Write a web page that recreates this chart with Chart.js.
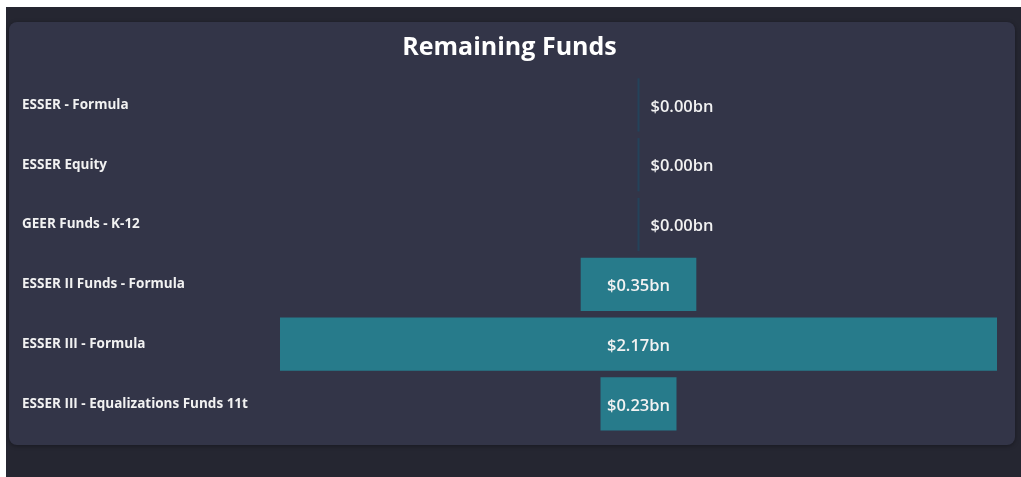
<!DOCTYPE html>
<html>
<head>
<meta charset="utf-8">
<script src="https://cdn.jsdelivr.net/npm/chart.js@4/dist/chart.umd.min.js"></script>
<style>
    html, body { margin: 0; padding: 0; background: #ffffff; }
    .page {
        position: absolute; left: 6px; top: 7px; width: 1015px; height: 470px;
        background: #252631;
    }
    .card {
        position: absolute; left: 3px; top: 15px; width: 1006px; height: 423px;
        background: #333548; border-radius: 8px;
        box-shadow: 0 1px 4px rgba(0, 0, 0, 0.35);
    }
    .card canvas { display: block; }
</style>
</head>
<body>
<div class="page">
    <div class="card">
        <canvas id="chart-area" width="1006" height="423"></canvas>
    </div>
</div>
<script>
    var categories = [
        'ESSER - Formula',
        'ESSER Equity',
        'GEER Funds - K-12',
        'ESSER II Funds - Formula',
        'ESSER III - Formula',
        'ESSER III - Equalizations Funds 11t'
    ];
    var remaining = [0.00, 0.00, 0.00, 0.35, 2.17, 0.23];

    var maxValue = Math.max.apply(null, remaining);
    var floating = remaining.map(function (v) { return [-v / 2, v / 2]; });

    var valueLabels = {
        id: 'valueLabels',
        afterDatasetsDraw: function (chart) {
            var ctx = chart.ctx;
            var meta = chart.getDatasetMeta(0);
            ctx.save();
            ctx.font = '600 16.5px "Open Sans", sans-serif';
            ctx.fillStyle = '#f2f2f2';
            ctx.textBaseline = 'middle';
            meta.data.forEach(function (bar, i) {
                var text = '$' + remaining[i].toFixed(2) + 'bn';
                // zero rows: label sits to the right of the centre line
                if (remaining[i] === 0) {
                    ctx.textAlign = 'left';
                    ctx.fillText(text, bar.x + 13, bar.y + 2);
                } else {
                    ctx.textAlign = 'center';
                    ctx.fillText(text, (bar.x + bar.base) / 2, bar.y + 2);
                }
            });
            ctx.restore();
        }
    };

    var config = {
        type: 'bar',
        data: {
            labels: categories,
            datasets: [{
                data: floating,
                backgroundColor: function (c) {
                    return remaining[c.dataIndex] === 0 ? '#24435a' : '#277b8b';
                },
                borderWidth: 0,
                minBarLength: 2,
                barPercentage: 0.89,
                categoryPercentage: 1
            }]
        },
        options: {
            indexAxis: 'y',
            responsive: false,
            animation: false,
            layout: { padding: { left: 13, right: 18, top: 0, bottom: 10 } },
            plugins: {
                legend: { display: false },
                tooltip: { enabled: false },
                title: {
                    display: true,
                    text: 'Remaining Funds',
                    color: '#ffffff',
                    font: { family: '"Open Sans", sans-serif', size: 25, weight: 'bold' },
                    padding: { top: 11, bottom: 12 }
                }
            },
            scales: {
                x: {
                    display: false,
                    min: -maxValue / 2,
                    max: maxValue / 2
                },
                y: {
                    grid: { display: false },
                    border: { display: false },
                    afterFit: function (scale) { scale.width = 258; },
                    ticks: {
                        crossAlign: 'far',
                        color: '#f2f2f2',
                        font: { family: '"Open Sans", sans-serif', size: 13.5, weight: 'bold' }
                    }
                }
            }
        },
        plugins: [valueLabels]
    };

    var ctx = document.getElementById('chart-area').getContext('2d');
    window.myBar = new Chart(ctx, config);
</script>
</body>
</html>
